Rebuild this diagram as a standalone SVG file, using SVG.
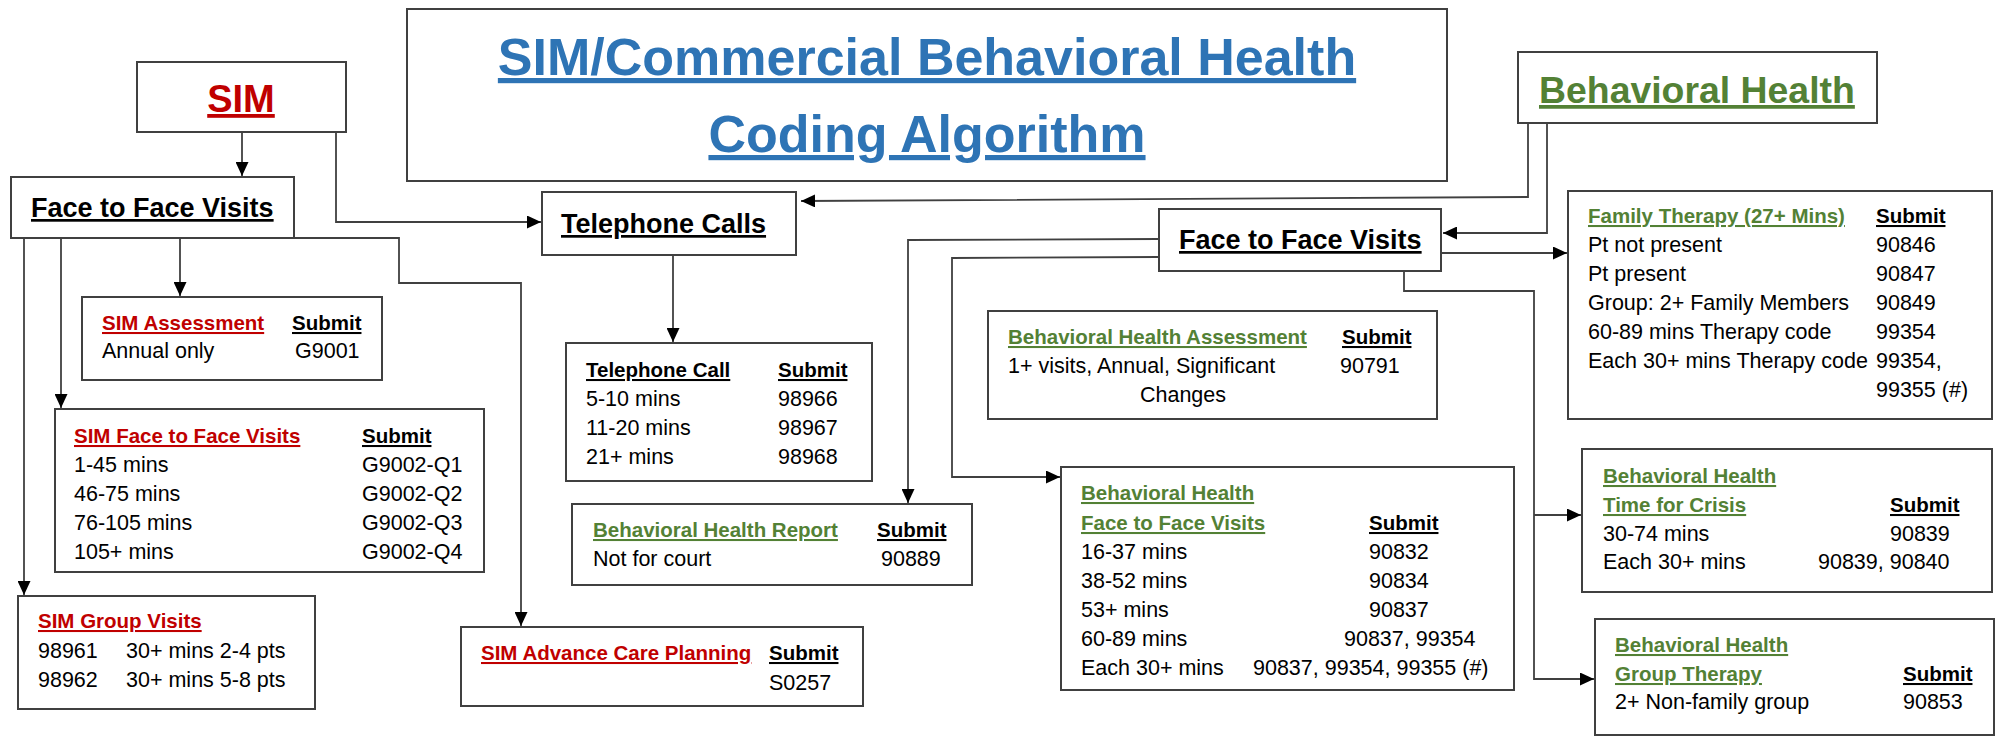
<svg xmlns="http://www.w3.org/2000/svg" width="1999" height="738" viewBox="0 0 1999 738">
<style>
.box{fill:#fff;stroke:#404040;stroke-width:2}
.c{fill:none;stroke:#404040;stroke-width:1.8;marker-end:url(#ah)}
text{font-family:'Liberation Sans',Arial,sans-serif;fill:#000}
.b{font-weight:bold;font-size:20.5px}
.r{font-size:21.5px}
.u{text-decoration:underline}
.red{fill:#C00000}
.grn{fill:#538135}
.hd{font-weight:bold;font-size:27px;text-decoration:underline}
</style>
<defs>
<marker id="ah" markerUnits="userSpaceOnUse" markerWidth="14" markerHeight="13" refX="14" refY="6.5" orient="auto">
<path d="M0,0 L14,6.5 L0,13 Z" fill="#000"/>
</marker>
</defs>
<rect width="1999" height="738" fill="#fff"/>

<g id="connectors">
<path class="c" d="M242,132 V176"/>
<path class="c" d="M336,132 V222 H541"/>
<path class="c" d="M180,238 V296"/>
<path class="c" d="M61,238 V408"/>
<path class="c" d="M24,238 V595"/>
<path class="c" d="M277,238 H399 V283 H521 V626"/>
<path class="c" d="M673,255 V342"/>
<path class="c" d="M1528,123 V197 L801,201"/>
<path class="c" d="M1547,123 V233 H1443"/>
<path class="c" d="M1441,253 H1567"/>
<path class="c" d="M1159,239 L908,240 V503"/>
<path class="c" d="M1159,257 L952,258 V477 H1060"/>
<path class="c" d="M1404,271 V291 H1534 V679 H1594"/>
<path class="c" d="M1534,515 H1581"/>
</g>

<g id="title">
<rect class="box" x="407" y="9" width="1040" height="172"/>
<text x="927" y="75" text-anchor="middle" font-weight="bold" font-size="52" fill="#2E74B5" text-decoration="underline" style="fill:#2E74B5">SIM/Commercial Behavioral Health</text>
<text x="927" y="152" text-anchor="middle" font-weight="bold" font-size="52" text-decoration="underline" style="fill:#2E74B5">Coding Algorithm</text>
</g>

<g id="sim">
<rect class="box" x="137" y="62" width="209" height="70"/>
<text x="241" y="112" text-anchor="middle" font-weight="bold" font-size="38" class="red u">SIM</text>
</g>

<g id="sim-f2f">
<rect class="box" x="11" y="177" width="283" height="61"/>
<text x="31" y="217" class="hd">Face to Face Visits</text>
</g>

<g id="sim-assessment">
<rect class="box" x="82" y="297" width="300" height="83"/>
<text x="102" y="330" class="b u red">SIM Assessment</text>
<text x="292" y="330" class="b u">Submit</text>
<text x="102" y="358" class="r">Annual only</text>
<text x="295" y="358" class="r">G9001</text>
</g>

<g id="sim-f2f-visits">
<rect class="box" x="55" y="409" width="429" height="163"/>
<text x="74" y="443" class="b u red">SIM Face to Face Visits</text>
<text x="362" y="443" class="b u">Submit</text>
<text x="74" y="472" class="r">1-45 mins</text><text x="362" y="472" class="r">G9002-Q1</text>
<text x="74" y="501" class="r">46-75 mins</text><text x="362" y="501" class="r">G9002-Q2</text>
<text x="74" y="530" class="r">76-105 mins</text><text x="362" y="530" class="r">G9002-Q3</text>
<text x="74" y="559" class="r">105+ mins</text><text x="362" y="559" class="r">G9002-Q4</text>
</g>

<g id="sim-group">
<rect class="box" x="18" y="596" width="297" height="113"/>
<text x="38" y="628" class="b u red">SIM Group Visits</text>
<text x="38" y="658" class="r">98961</text><text x="126" y="658" class="r">30+ mins 2-4 pts</text>
<text x="38" y="687" class="r">98962</text><text x="126" y="687" class="r">30+ mins 5-8 pts</text>
</g>

<g id="sim-acp">
<rect class="box" x="461" y="627" width="402" height="79"/>
<text x="481" y="660" class="b u red">SIM Advance Care Planning</text>
<text x="769" y="660" class="b u">Submit</text>
<text x="769" y="690" class="r">S0257</text>
</g>

<g id="telephone-calls">
<rect class="box" x="542" y="192" width="254" height="63"/>
<text x="561" y="233" class="hd">Telephone Calls</text>
</g>

<g id="telephone-call">
<rect class="box" x="566" y="343" width="306" height="138"/>
<text x="586" y="377" class="b u">Telephone Call</text>
<text x="778" y="377" class="b u">Submit</text>
<text x="586" y="406" class="r">5-10 mins</text><text x="778" y="406" class="r">98966</text>
<text x="586" y="435" class="r">11-20 mins</text><text x="778" y="435" class="r">98967</text>
<text x="586" y="464" class="r">21+ mins</text><text x="778" y="464" class="r">98968</text>
</g>

<g id="bh-report">
<rect class="box" x="572" y="504" width="400" height="81"/>
<text x="593" y="537" class="b u grn">Behavioral Health Report</text>
<text x="877" y="537" class="b u">Submit</text>
<text x="593" y="566" class="r">Not for court</text>
<text x="881" y="566" class="r">90889</text>
</g>

<g id="bh">
<rect class="box" x="1518" y="52" width="359" height="71"/>
<text x="1539" y="103" font-weight="bold" font-size="37.4" class="grn u">Behavioral Health</text>
</g>

<g id="bh-f2f">
<rect class="box" x="1159" y="209" width="282" height="62"/>
<text x="1179" y="249" class="hd">Face to Face Visits</text>
</g>

<g id="bh-assessment">
<rect class="box" x="988" y="311" width="449" height="108"/>
<text x="1008" y="344" class="b u grn">Behavioral Health Assessment</text>
<text x="1342" y="344" class="b u">Submit</text>
<text x="1008" y="373" class="r">1+ visits, Annual, Significant</text>
<text x="1340" y="373" class="r">90791</text>
<text x="1183" y="402" text-anchor="middle" class="r">Changes</text>
</g>

<g id="bh-f2f-visits">
<rect class="box" x="1061" y="467" width="453" height="223"/>
<text x="1081" y="500" class="b u grn">Behavioral Health</text>
<text x="1081" y="530" class="b u grn">Face to Face Visits</text>
<text x="1369" y="530" class="b u">Submit</text>
<text x="1081" y="559" class="r">16-37 mins</text><text x="1369" y="559" class="r">90832</text>
<text x="1081" y="588" class="r">38-52 mins</text><text x="1369" y="588" class="r">90834</text>
<text x="1081" y="617" class="r">53+ mins</text><text x="1369" y="617" class="r">90837</text>
<text x="1081" y="646" class="r">60-89 mins</text><text x="1344" y="646" class="r">90837, 99354</text>
<text x="1081" y="675" class="r">Each 30+ mins</text><text x="1253" y="675" class="r">90837, 99354, 99355 (#)</text>
</g>

<g id="family-therapy">
<rect class="box" x="1568" y="191" width="424" height="228"/>
<text x="1588" y="223" class="b u grn">Family Therapy (27+ Mins)</text>
<text x="1876" y="223" class="b u">Submit</text>
<text x="1588" y="252" class="r">Pt not present</text><text x="1876" y="252" class="r">90846</text>
<text x="1588" y="281" class="r">Pt present</text><text x="1876" y="281" class="r">90847</text>
<text x="1588" y="310" class="r">Group: 2+ Family Members</text><text x="1876" y="310" class="r">90849</text>
<text x="1588" y="339" class="r">60-89 mins Therapy code</text><text x="1876" y="339" class="r">99354</text>
<text x="1588" y="368" class="r">Each 30+ mins Therapy code</text><text x="1876" y="368" class="r">99354,</text>
<text x="1876" y="397" class="r">99355 (#)</text>
</g>

<g id="bh-crisis">
<rect class="box" x="1582" y="449" width="410" height="143"/>
<text x="1603" y="483" class="b u grn">Behavioral Health</text>
<text x="1603" y="512" class="b u grn">Time for Crisis</text>
<text x="1890" y="512" class="b u">Submit</text>
<text x="1603" y="541" class="r">30-74 mins</text><text x="1890" y="541" class="r">90839</text>
<text x="1603" y="569" class="r">Each 30+ mins</text><text x="1818" y="569" class="r">90839, 90840</text>
</g>

<g id="bh-group-therapy">
<rect class="box" x="1595" y="619" width="399" height="116"/>
<text x="1615" y="652" class="b u grn">Behavioral Health</text>
<text x="1615" y="681" class="b u grn">Group Therapy</text>
<text x="1903" y="681" class="b u">Submit</text>
<text x="1615" y="709" class="r">2+ Non-family group</text><text x="1903" y="709" class="r">90853</text>
</g>
</svg>
